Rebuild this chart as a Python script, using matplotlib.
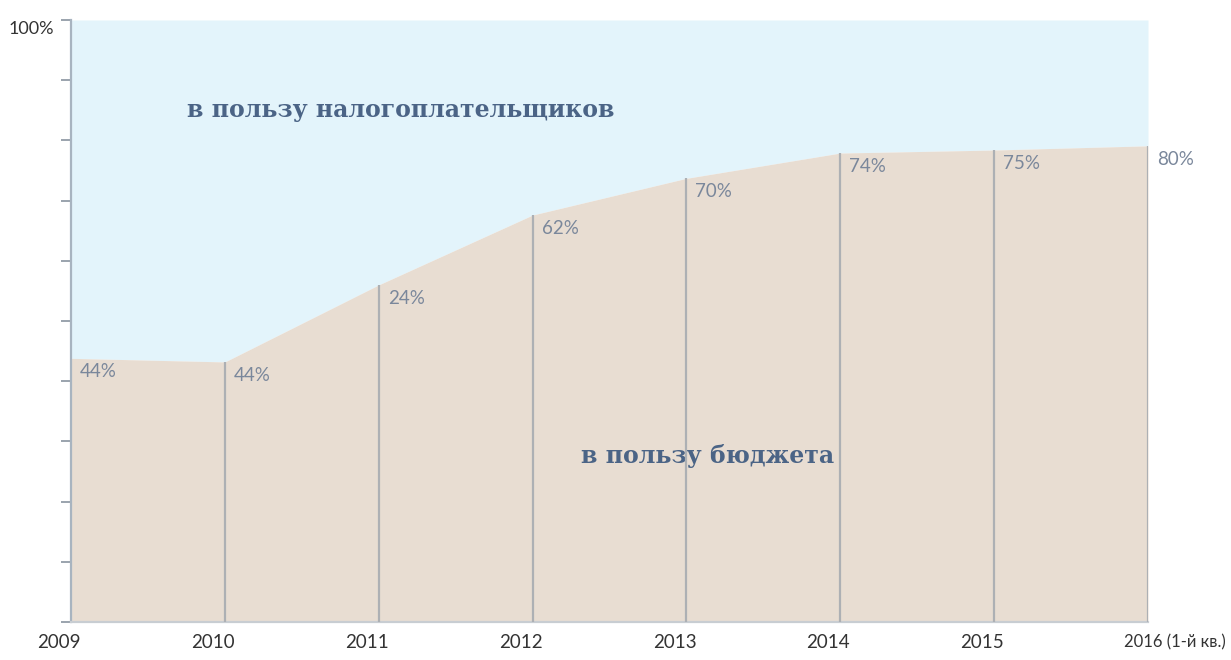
import numpy as np
import matplotlib
matplotlib.use("Agg")
import matplotlib.pyplot as plt
from matplotlib.transforms import ScaledTranslation

# years on the x axis and share of cases won by the budget
years = [2009, 2010, 2011, 2012, 2013, 2014, 2015, 2016]
year_labels = ["2009", "2010", "2011", "2012", "2013", "2014", "2015", "2016 (1-й кв.)"]
budget_share = [0.438, 0.432, 0.560, 0.676, 0.737, 0.779, 0.784, 0.791]
value_labels = ["44%", "44%", "24%", "62%", "70%", "74%", "75%", "80%"]

BEIGE = "#e8ddd2"
BLUE = "#e3f4fb"
LINE = "#adb0b4"
DARK = "#4b6486"
VAL = "#7a879b"

fig = plt.figure(figsize=(12.31, 6.6), dpi=100)
ax = fig.add_axes([71 / 1231, 38 / 660, (1148 - 71) / 1231, (622 - 20) / 660])

x = np.array(years)
h = np.array(budget_share)
ax.fill_between(x, h, 1.0, color=BLUE, lw=0)
ax.fill_between(x, 0, h, color=BEIGE, lw=0)
ax.vlines(x[1:], 0, h[1:], color=LINE, lw=1.6, zorder=3)

ax.set_xlim(years[0], years[-1])
ax.set_ylim(0, 1)

for xi, hi, lab in zip(x, h, value_labels):
    ax.annotate(lab, (xi, hi), xytext=(9, -5), textcoords="offset pixels",
                ha="left", va="top", fontsize=13.5, color=VAL, family="Lato",
                annotation_clip=False)

serif = ["DejaVu Serif Condensed", "DejaVu Serif"]
ax.text(2011.14, 0.85, "в пользу налогоплательщиков", ha="center", va="center",
        fontsize=17, fontweight="bold", color=DARK, family=serif)
ax.text(2013.14, 0.275, "в пользу бюджета", ha="center", va="center",
        fontsize=17, fontweight="bold", color=DARK, family=serif, zorder=2)

# axes styling
for s in ["top", "right"]:
    ax.spines[s].set_visible(False)
ax.spines["left"].set_color("#a8b4c0")
ax.spines["left"].set_linewidth(1.6)
ax.spines["bottom"].set_color("#c8cdd2")
ax.spines["bottom"].set_linewidth(1.6)

ax.set_yticks(np.arange(0, 1.01, 0.1))
ax.set_yticklabels([""] * 10 + ["100%"])
ax.tick_params(axis="y", length=7, width=1.4, color="#9aa3ad", pad=5,
               labelsize=13, labelcolor="#333333")
for t in ax.get_yticklabels():
    t.set_family("Lato")
    t.set_transform(t.get_transform() + ScaledTranslation(0, -0.07, fig.dpi_scale_trans))

ax.set_xticks(years)
ax.set_xticklabels(year_labels)
ax.tick_params(axis="x", length=0, pad=9, labelsize=13.5, labelcolor="#333333")
for i, t in enumerate(ax.get_xticklabels()):
    t.set_family("Lato")
    if i == len(year_labels) - 1:
        t.set_ha("left")
        t.set_fontsize(12)
        t.set_transform(t.get_transform() + ScaledTranslation(-0.24, 0, fig.dpi_scale_trans))
    else:
        t.set_transform(t.get_transform() + ScaledTranslation(-0.12, 0, fig.dpi_scale_trans))

fig.savefig("out.png", dpi=100)
